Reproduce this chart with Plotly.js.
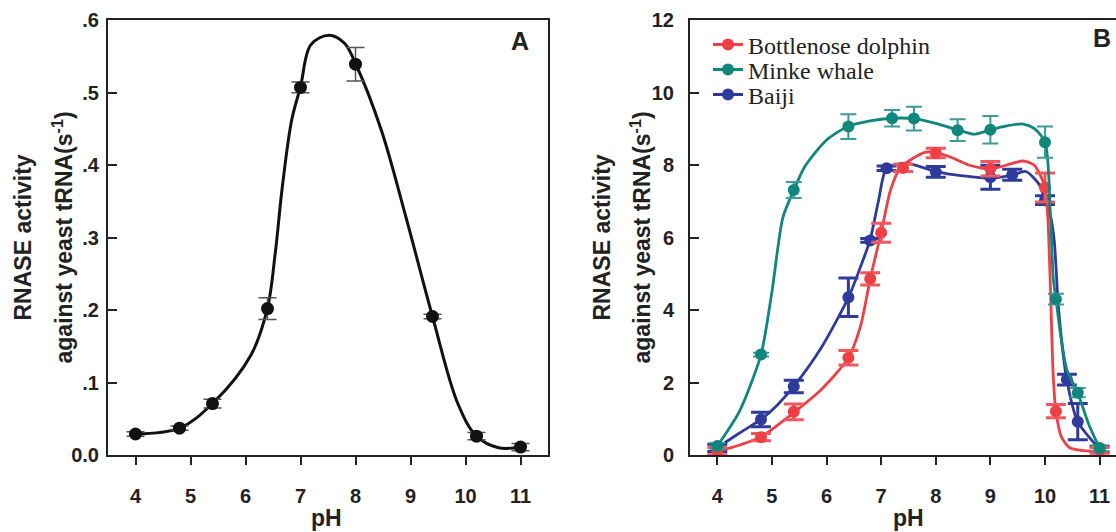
<!DOCTYPE html>
<html>
<head>
<meta charset="utf-8">
<script src="https://cdn.plot.ly/plotly-3.0.1.min.js"></script>
<style>html,body{margin:0;padding:0;background:#fff;}#chart{width:1116px;height:532px;}</style>
</head>
<body>
<div id="chart"></div>
<script>
// ---------- Panel A data ----------
var phA = [4, 4.8, 5.4, 6.4, 7.0, 8.0, 9.4, 10.2, 11];
var actA = [0.029, 0.037, 0.071, 0.202, 0.507, 0.539, 0.191, 0.026, 0.011];
var errA = [0.003, 0.003, 0.006, 0.015, 0.0075, 0.023, 0.003, 0.005, 0.005];
// fitted curve of panel A
var fitAx = [4.0, 4.8, 5.4, 6.1, 6.4, 6.54, 6.67, 6.84, 7.0, 7.19, 7.52, 7.8, 8.0, 8.47, 8.9, 9.4, 9.86, 10.2, 10.6, 11.0];
var fitAy = [0.029, 0.037, 0.071, 0.138, 0.203, 0.278, 0.370, 0.462, 0.508, 0.566, 0.579, 0.568, 0.540, 0.448, 0.333, 0.191, 0.071, 0.026, 0.010, 0.011];
var ticksAx = [4, 5, 6, 7, 8, 9, 10, 11];
var ticksAy = [0, 0.1, 0.2, 0.3, 0.4, 0.5, 0.6];
var labelsAy = ["0.0", ".1", ".2", ".3", ".4", ".5", ".6"];

// ---------- Panel B data ----------
var names = ["Bottlenose dolphin", "Minke whale", "Baiji"];
var phRed = [4, 4.8, 5.4, 6.4, 6.8, 7.0, 7.4, 8.0, 9.0, 10.0, 10.2, 11];
var red = [0.11, 0.49, 1.19, 2.68, 4.86, 6.13, 7.92, 8.33, 7.90, 7.38, 1.21, 0.13];
var redErr = [0.1, 0.1, 0.22, 0.2, 0.17, 0.26, 0.1, 0.13, 0.2, 0.4, 0.18, 0.08];
var phTeal = [4, 4.8, 5.4, 6.4, 7.2, 7.6, 8.4, 9.0, 10.0, 10.2, 10.6, 11];
var teal = [0.25, 2.77, 7.31, 9.06, 9.29, 9.28, 8.96, 8.97, 8.63, 4.30, 1.72, 0.19];
var tealErr = [0.08, 0.05, 0.22, 0.34, 0.23, 0.33, 0.3, 0.38, 0.43, 0.15, 0.13, 0.08];
var phBlue = [4, 4.8, 5.4, 6.4, 6.8, 7.1, 8.0, 9.0, 9.4, 10.0, 10.4, 10.6, 11];
var blue = [0.2, 0.98, 1.89, 4.35, 5.92, 7.91, 7.81, 7.66, 7.73, 7.03, 2.08, 0.92, 0.16];
var blueErr = [0.1, 0.2, 0.17, 0.53, 0.05, 0.06, 0.15, 0.33, 0.15, 0.12, 0.15, 0.5, 0.08];
// fitted curves of panel B
var fitRedX = [4.0, 4.4, 4.8, 5.4, 5.9, 6.4, 6.62, 6.8, 7.0, 7.17, 7.35, 7.6, 7.8, 8.0, 8.3, 8.6, 9.0, 9.3, 9.6, 9.8, 10.0, 10.05, 10.1, 10.15, 10.2, 10.3, 10.45, 10.7, 11.1];
var fitRedY = [0.1, 0.27, 0.5, 1.17, 1.8, 2.68, 3.54, 4.86, 6.13, 7.3, 7.92, 8.2, 8.35, 8.34, 8.2, 8.0, 7.89, 8.0, 8.11, 8.0, 7.4, 6.6, 4.6, 2.2, 1.2, 0.5, 0.2, 0.12, 0.1];
var fitTealX = [4.0, 4.4, 4.8, 5.0, 5.2, 5.4, 5.6, 6.0, 6.4, 6.8, 7.2, 7.6, 8.0, 8.4, 8.7, 9.0, 9.3, 9.6, 9.8, 10.0, 10.1, 10.15, 10.2, 10.3, 10.4, 10.6, 10.8, 11.0];
var fitTealY = [0.25, 1.19, 2.77, 4.5, 6.55, 7.30, 7.95, 8.69, 9.07, 9.22, 9.29, 9.28, 9.15, 8.97, 8.85, 8.97, 9.08, 9.13, 9.01, 8.64, 6.6, 4.9, 4.3, 3.17, 2.35, 1.71, 0.85, 0.19];
var fitBlueX = [4.0, 4.4, 4.8, 5.1, 5.4, 5.9, 6.4, 6.6, 6.8, 6.95, 7.1, 7.45, 8.0, 8.5, 9.0, 9.4, 9.65, 9.9, 10.0, 10.1, 10.17, 10.25, 10.4, 10.6, 11.0];
var fitBlueY = [0.2, 0.6, 0.98, 1.38, 1.89, 2.95, 4.34, 5.1, 5.95, 7.0, 7.91, 8.05, 7.82, 7.70, 7.63, 7.72, 7.82, 7.45, 7.02, 6.6, 5.9, 4.0, 2.07, 0.92, 0.16];
var ticksBx = [4, 5, 6, 7, 8, 9, 10, 11];
var ticksBy = [0, 2, 4, 6, 8, 10, 12];

var cRed = '#EE3F45', cTeal = '#0F877D', cBlue = '#2E3B9C';
var cRedE = '#F0585D', cTealE = '#3A9D95', cBlueE = '#2E3B9C';

var sans = 'Liberation Sans, Arial, Helvetica, sans-serif';
var serif = 'Liberation Serif, Times New Roman, serif';
var ink = '#222';

function fit(x, y, c, xa, ya) {
  return {x: x, y: y, xaxis: xa, yaxis: ya, mode: 'lines', showlegend: false, hoverinfo: 'skip',
          cliponaxis: false,
          line: {color: c, width: 2.8, shape: 'spline', smoothing: 0.7}};
}
function pts(x, y, e, c, ce, th, w, xa, ya) {
  return {x: x, y: y, xaxis: xa, yaxis: ya, mode: 'markers', showlegend: false, cliponaxis: false,
          marker: {size: 12, color: c},
          error_y: {type: 'data', array: e, visible: true, color: ce, thickness: th, width: w}};
}
function leg(name, c, lg) {
  return {x: [null], y: [null], xaxis: 'x2', yaxis: 'y2', mode: 'lines+markers', name: name, legend: lg,
          line: {color: c, width: 3}, marker: {size: 12, color: c}};
}

var data = [
  {x: fitAx, y: fitAy, xaxis: 'x', yaxis: 'y', mode: 'lines', showlegend: false, hoverinfo: 'skip',
   line: {color: '#111', width: 3, shape: 'spline', smoothing: 1}},
  {x: phA, y: actA, xaxis: 'x', yaxis: 'y', mode: 'markers', showlegend: false, cliponaxis: false,
   marker: {size: 13, color: '#111'},
   error_y: {type: 'data', array: errA, visible: true, color: '#555', thickness: 1.5, width: 9}},
  fit(fitBlueX, fitBlueY, cBlue, 'x2', 'y2'),
  pts(phBlue, blue, blueErr, cBlue, cBlueE, 3, 10, 'x2', 'y2'),
  fit(fitRedX, fitRedY, cRed, 'x2', 'y2'),
  pts(phRed, red, redErr, cRed, cRedE, 3, 10, 'x2', 'y2'),
  fit(fitTealX, fitTealY, cTeal, 'x2', 'y2'),
  pts(phTeal, teal, tealErr, cTeal, cTealE, 2, 8, 'x2', 'y2'),
  leg(names[0], cRed, 'legend'),
  leg(names[1], cTeal, 'legend2'),
  leg(names[2], cBlue, 'legend3')
];

var tickFont = {family: sans, size: 20, weight: 'bold', color: ink};
var titleFont = {family: sans, size: 23, weight: 'bold', color: ink};

function xax(dom, rng, tv, anchor) {
  return {domain: dom, range: rng, anchor: anchor, tickvals: tv, ticks: 'outside', ticklen: 8, tickwidth: 2,
          tickcolor: ink, showline: true, linecolor: ink, linewidth: 2, mirror: true, showgrid: false,
          zeroline: false, tickfont: tickFont, ticklabelstandoff: 14};
}
function yax(rng, tv, tt, anchor, mirror, so) {
  var a = {domain: [0, 1], range: rng, anchor: anchor, tickvals: tv, ticks: 'inside', ticklen: 9, tickwidth: 2,
          tickcolor: ink, showline: true, linecolor: ink, linewidth: 2, mirror: mirror, showgrid: false,
          zeroline: false, tickfont: tickFont, ticklabelstandoff: so};
  if (tt) a.ticktext = tt;
  return a;
}

function ytitle(x, text) {
  return {xref: 'paper', yref: 'paper', x: x, y: 0.5, xanchor: 'center', yanchor: 'middle',
          text: text, showarrow: false, textangle: -90, font: titleFont};
}
function xtitle(x) {
  return {xref: 'paper', yref: 'paper', x: x, y: 1 - (518 - 20) / 435, xanchor: 'center', yanchor: 'middle',
          text: 'pH', showarrow: false, font: titleFont};
}
function lgd(ypx) {
  return {x: 708 / 1116, y: 1 - (ypx - 20) / 435, xanchor: 'left', yanchor: 'middle', bgcolor: 'rgba(0,0,0,0)',
          font: {family: serif, size: 24, color: ink}, itemwidth: 30};
}

var layout = {
  width: 1116, height: 532,
  margin: {l: 0, r: 0, t: 20, b: 77},
  paper_bgcolor: '#fff', plot_bgcolor: '#fff',
  showlegend: true,
  xaxis: xax([108 / 1116, 548 / 1116], [3.5, 11.5], ticksAx, 'y'),
  yaxis: yax([0, 0.6], ticksAy, labelsAy, 'x', true, 3),
  xaxis2: xax([690 / 1116, 1], [3.5, 11.3], ticksBx, 'y2'),
  yaxis2: yax([0, 12], ticksBy, null, 'x2', false, 10),
  legend: lgd(45),
  legend2: lgd(70),
  legend3: lgd(95),
  annotations: [
    ytitle(22 / 1116, 'RNASE activity'),
    ytitle(62 / 1116, 'against yeast tRNA(s<sup>-1</sup>)'),
    ytitle(601 / 1116, 'RNASE activity'),
    ytitle(640 / 1116, 'against yeast tRNA(s<sup>-1</sup>)'),
    xtitle(326 / 1116),
    xtitle(908 / 1116),
    {xref: 'paper', yref: 'paper', x: 520 / 1116, y: 1 - 21 / 435, xanchor: 'center', yanchor: 'middle',
     text: 'A', showarrow: false, font: {family: sans, size: 25, weight: 'bold', color: ink}},
    {xref: 'paper', yref: 'paper', x: 1102 / 1116, y: 1 - 18 / 435, xanchor: 'center', yanchor: 'middle',
     text: 'B', showarrow: false, font: {family: sans, size: 25, weight: 'bold', color: ink}}
  ]
};

Plotly.newPlot('chart', data, layout, {staticPlot: true, displayModeBar: false});
</script>
</body>
</html>
